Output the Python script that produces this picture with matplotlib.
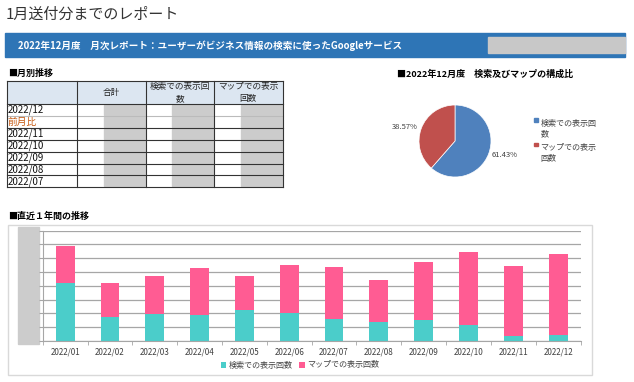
"""
Monthly report page: table of monthly values, pie of search/map share and a
stacked bar chart of the last 12 months (Google business profile views).
"""
import matplotlib
matplotlib.use("Agg")
import matplotlib.pyplot as plt
from matplotlib.patches import Rectangle

plt.rcParams['font.family'] = ['Noto Sans CJK JP', 'DejaVu Sans']

# data
table_rows = ['2022/12', '前月比', '2022/11', '2022/10', '2022/09', '2022/08', '2022/07']
table_headers = ['合計', '検索での表示回\n数', 'マップでの表示\n回数']

pie_labels = ['検索での表示回\n数', 'マップでの表示\n回数']
pie_values = [61.43, 38.57]

months = ['2022/01', '2022/02', '2022/03', '2022/04', '2022/05', '2022/06',
          '2022/07', '2022/08', '2022/09', '2022/10', '2022/11', '2022/12']
search_views = [4.20, 1.76, 1.98, 1.86, 2.22, 2.03, 1.62, 1.35, 1.52, 1.16, 0.36, 0.41]
map_views = [2.69, 2.44, 2.73, 3.41, 2.49, 3.48, 3.75, 3.05, 4.19, 5.29, 5.06, 5.87]
series_names = ['検索での表示回数', 'マップでの表示回数']

W, H = 634, 382


def px_axes(fig, x0, y0, x1, y1):
    """Add axes from pixel box (top-left origin)."""
    return fig.add_axes([x0 / W, 1 - y1 / H, (x1 - x0) / W, (y1 - y0) / H])


def draw_page():
    fig = plt.figure(figsize=(W / 100, H / 100), dpi=100)
    bg = fig.add_axes([0, 0, 1, 1])
    bg.set_xlim(0, W)
    bg.set_ylim(H, 0)
    bg.axis('off')

    # heading and banner
    bg.text(6, 15, '1月送付分までのレポート', fontsize=10.8, color='#333333', va='center')
    bg.add_patch(Rectangle((5, 33), 620, 24, color='#2e75b6'))
    bg.add_patch(Rectangle((488, 37), 137, 16, color='#c8c8c8'))
    bg.text(18, 45.5, '2022年12月度　月次レポート：ユーザーがビジネス情報の検索に使ったGoogleサービス',
            fontsize=6.9, color='white', fontweight='bold', va='center')

    # monthly table
    bg.text(8, 73.5, '■月別推移', fontsize=6.5, fontweight='bold', va='center')
    col_x = [7, 76.5, 145.5, 214, 282.5]
    head_top, head_bot = 80.5, 104
    row_h = 11.9
    bg.add_patch(Rectangle((col_x[0], head_top), col_x[-1] - col_x[0], head_bot - head_top,
                           facecolor='#dce6f1', edgecolor='none'))
    for j, name in enumerate(table_headers):
        cx = (col_x[j + 1] + col_x[j + 2]) / 2
        bg.text(cx, (head_top + head_bot) / 2, name, fontsize=6.2, ha='center', va='center',
                linespacing=1.45, color='#222222')
    gray_l = [104, 171.5, 240.5]
    gray_r = [144.5, 212.5, 281.5]
    for i, lab in enumerate(table_rows):
        top = head_bot + i * row_h
        bg.text(col_x[0] + 1, top + row_h / 2, lab, fontsize=7,
                color='#c65911' if lab == '前月比' else '#111111', va='center')
        for gl, gr in zip(gray_l, gray_r):
            bg.add_patch(Rectangle((gl, top + 1), gr - gl, row_h - 2, color='#cccccc'))
        lc = '#bbbbbb' if i == 1 else '#333333'
        bg.plot([col_x[0], col_x[-1]], [top, top], color=lc, lw=0.8)
    bottom = head_bot + len(table_rows) * row_h
    bg.plot([col_x[0], col_x[-1]], [head_top, head_top], color='#333333', lw=0.8)
    bg.plot([col_x[0], col_x[-1]], [bottom, bottom], color='#333333', lw=0.8)
    for x in col_x:
        bg.plot([x, x], [head_top, bottom], color='#333333', lw=0.8)

    # pie
    bg.text(397, 74.5, '■2022年12月度　検索及びマップの構成比', fontsize=6.5,
            fontweight='bold', va='center')
    pie_colors = ['#4f81bd', '#c0504d']
    pax = px_axes(fig, 410, 96, 500, 186)
    wedges, texts, autotexts = pax.pie(
        pie_values, colors=pie_colors, startangle=90, counterclock=False,
        autopct='%.2f%%', pctdistance=1.1,
        textprops={'fontsize': 5.5, 'color': '#404040'},
        wedgeprops={'linewidth': 0.5, 'edgecolor': 'white'})
    for t in autotexts:
        t.set_ha('left' if t.get_position()[0] > 0 else 'right')
    pax.set_aspect('equal')
    for k, (lab, c) in enumerate(zip(pie_labels, pie_colors)):
        y = 121 + k * 24.5
        bg.add_patch(Rectangle((534, y - 3), 3.5, 3.5, color=c))
        bg.text(540.5, y - 2.5, lab, fontsize=5.8, color='#404040', va='top', linespacing=1.25)

    # stacked bar chart
    bg.text(8, 216, '■直近１年間の推移', fontsize=6.5, fontweight='bold', va='center')
    bg.add_patch(Rectangle((8, 224.5), 584, 150.5, facecolor='none',
                           edgecolor='#d9d9d9', lw=1))
    ax = px_axes(fig, 42.7, 230.7, 580.5, 341)
    x = list(range(len(months)))
    ax.bar(x, search_views, width=0.42, color='#4bcdca', label=series_names[0])
    ax.bar(x, map_views, width=0.42, bottom=search_views, color='#ff5c93',
           label=series_names[1])
    ax.set_xlim(-0.5, len(months) - 0.5)
    ax.set_ylim(0, 8)
    ax.set_yticks(range(9))
    ax.set_yticklabels([])
    ax.grid(axis='y', color='#a6a6a6', lw=0.9)
    ax.set_axisbelow(True)
    ax.set_xticks(x)
    ax.set_xticklabels(months, fontsize=5.8, color='#404040')
    ax.set_xticks([i - 0.5 for i in range(len(months) + 1)], minor=True)
    ax.tick_params(axis='x', which='major', length=0, pad=5)
    ax.tick_params(axis='x', which='minor', length=3, color='#a6a6a6')
    ax.tick_params(axis='y', length=3, color='#a6a6a6')
    for s in ['top', 'right']:
        ax.spines[s].set_visible(False)
    for s in ['left', 'bottom']:
        ax.spines[s].set_color('#a6a6a6')
    bg.add_patch(Rectangle((18, 227), 21, 117, color='#cccccc', zorder=5))
    ax.legend(loc='center', bbox_to_anchor=(300 / W, 1 - 365 / H),
              bbox_transform=fig.transFigure, ncol=2, frameon=False,
              fontsize=5.8, handlelength=0.7, handleheight=0.7,
              handletextpad=0.3, columnspacing=0.8, labelcolor='#404040')

    fig.savefig('out.png', dpi=100)


if __name__ == '__main__':
    draw_page()
